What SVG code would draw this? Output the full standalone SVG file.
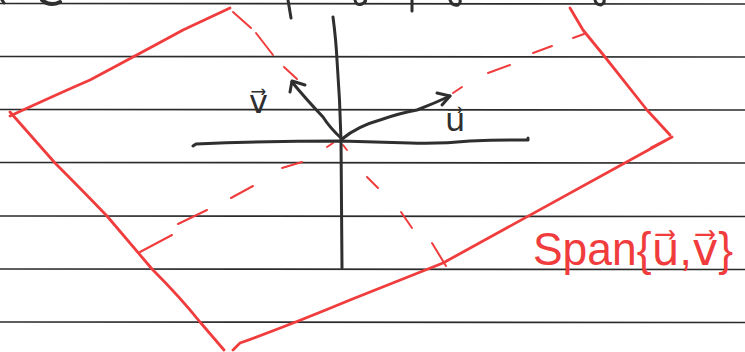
<svg xmlns="http://www.w3.org/2000/svg" width="745" height="352" viewBox="0 0 745 352">
<style>
.rule{stroke:#2b2b2b;stroke-width:1.6;fill:none}
.ink{stroke:#2f2f2f;stroke-width:3;fill:none;stroke-linecap:round;stroke-linejoin:round}
.red{stroke:#f03c3c;stroke-width:2.8;fill:none;stroke-linecap:round;stroke-linejoin:round}
.dash{stroke:#f03c3c;stroke-width:2;fill:none;stroke-linecap:round}
.lbl{font-family:"DejaVu Sans","Liberation Sans",sans-serif;fill:#2f2f2f}
.rlbl{font-family:"Liberation Sans","DejaVu Sans",sans-serif;fill:#f03c3c}
</style>
<rect width="745" height="352" fill="#ffffff"/>
<g id="paper-lines">
<line class="rule" x1="0" y1="3.5" x2="745" y2="4"/>
<line class="rule" x1="0" y1="56.5" x2="745" y2="57"/>
<line class="rule" x1="0" y1="109.5" x2="745" y2="110"/>
<line class="rule" x1="0" y1="162.5" x2="745" y2="163"/>
<line class="rule" x1="0" y1="216" x2="745" y2="216.5"/>
<line class="rule" x1="0" y1="269" x2="745" y2="269.5"/>
<line class="rule" x1="0" y1="322" x2="745" y2="322.5"/>
</g>
<g id="top-fragments" class="ink" stroke-width="2.5">
<path d="M2 0 L4 3"/>
<path d="M42 0 Q50 7 60 2" stroke-width="4"/>
<path d="M288 0 L291 18"/>
<path d="M355 0 Q356 6 362 4 Q367 1 365 0"/>
<path d="M412 0 L412 11"/>
<path d="M450 0 Q452 6 458 5 Q461 3 460 0"/>
<path d="M595 0 Q596 5 601 5 Q605 3 604 0"/>
</g>
<g id="plane">
<path class="red" d="M10 116 Q60 93 90 80 Q150 48 183 30 L230 8"/>
<path class="red" d="M10 112 L55 163 Q80 188 107 216 L152 269 Q180 297 200 322 L224 350"/>
<path class="red" d="M233 350 L240 343 Q290 325 350 300 L443 263 L672 137 L651 148"/>
<path class="red" d="M570 8 L583 30 L605 57 L647 110 L670 135"/>
</g>
<g id="plane-dashes">
<path class="dash" d="M233 12 L251 28"/>
<path class="dash" d="M256 33 L273 55"/>
<path class="dash" d="M284 67 L297 79"/>
<path class="dash" d="M343 145 L347 150"/>
<path class="dash" d="M367 177 L378 188"/>
<path class="dash" d="M401 212 L412 228"/>
<path class="dash" d="M432 243 L446 266"/>
<path class="dash" d="M140 252 L172 235"/>
<path class="dash" d="M178 224 L207 210"/>
<path class="dash" d="M231 198 L253 186"/>
<path class="dash" d="M282 168 L302 162"/>
<path class="dash" d="M327 147 L333 143"/>
<path class="dash" d="M453 93 L462 87"/>
<path class="dash" d="M488 73 L510 65"/>
<path class="dash" d="M533 53 L552 46"/>
<path class="dash" d="M573 38 L584 34"/>
</g>
<g id="axes">
<path class="ink" d="M333 17 Q336 40 337 60 Q340 100 341 140 L342 268"/>
<path class="ink" d="M193 146 L196 144 Q270 141 340 141 Q380 142 410 143 Q440 144 470 141 Q500 140 528 140 L528 138"/>
</g>
<g id="vectors">
<path class="ink" d="M342 139 Q358 126 380 120 Q400 113 417 110 Q435 103 450 96"/>
<path class="ink" d="M437 93 L450 96 L442 105"/>
<path class="ink" d="M342 139 Q330 128 323 117 Q305 98 292 82"/>
<path class="ink" d="M290 92 L292 81 L305 85"/>
</g>
<g id="labels">
<text class="lbl" x="445" y="131" font-size="32">u⃗</text>
<text class="lbl" x="249" y="113" font-size="32">v⃗</text>
<text class="rlbl" x="533" y="265" font-size="46" textLength="200" lengthAdjust="spacingAndGlyphs">Span{u⃗,v⃗}</text>
</g>
</svg>
